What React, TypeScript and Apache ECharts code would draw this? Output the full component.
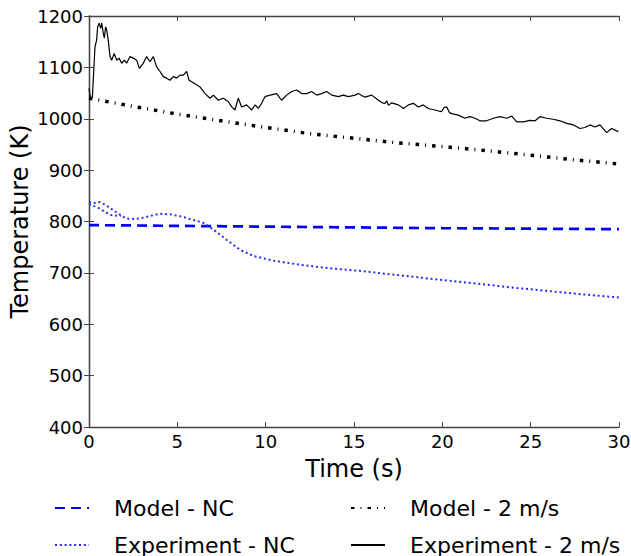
import React, { useEffect, useRef } from "react";
import * as echarts from "echarts";

const xTicks = [0, 5, 10, 15, 20, 25, 30];
const yTicks = [400, 500, 600, 700, 800, 900, 1000, 1100, 1200];

const modelNC: [number, number][] = [
  [0, 793], [10, 790], [20, 787], [30, 785],
];

const experimentNC: ([number, number] | [number, null])[] = [
  [0, 834], [0.5, 827], [1.0, 817], [1.3, 812], [1.8, 811], [1.85, null],
  [0, 838], [0.3, 836], [0.6, 838], [0.9, 833], [1.2, 826], [1.5, 819], [1.8, 812],
  [2.1, 806], [2.5, 805], [2.9, 806], [3.5, 811], [4.0, 815], [4.6, 814],
  [5.2, 810], [5.7, 805], [6.1, 801], [6.5, 797], [7.05, 784], [7.8, 764],
  [8.55, 745], [9.3, 733], [10.4, 724], [11.9, 716], [13.6, 709], [15.3, 704],
  [17.4, 696], [19.5, 688], [21.75, 680], [23.8, 672], [25.9, 665], [28, 658],
  [30, 652],
];

const model2: [number, number][] = [
  [0, 1040], [2.5, 1024], [5, 1009], [7.5, 996], [10, 983], [12.5, 971],
  [15, 962], [17.5, 953], [20, 946], [22.5, 938], [25, 929], [27.5, 920],
  [30, 912],
];

const experiment2: [number, number][] = [
  [0, 1059], [0.08, 1040], [0.19, 1042], [0.25, 1082], [0.34, 1140], [0.43, 1153],
  [0.49, 1179], [0.57, 1186], [0.66, 1176], [0.72, 1186], [0.81, 1166], [0.87, 1157],
  [0.94, 1179], [1.0, 1173], [1.09, 1153], [1.19, 1121], [1.28, 1114], [1.43, 1127],
  [1.57, 1114], [1.7, 1118], [1.85, 1108], [2.0, 1114], [2.13, 1108], [2.32, 1121],
  [2.51, 1118], [2.7, 1114], [2.85, 1098], [3.07, 1108], [3.26, 1121], [3.45, 1111],
  [3.64, 1121], [3.83, 1101], [4.02, 1092], [4.21, 1082], [4.4, 1079], [4.58, 1075],
  [4.77, 1082], [4.96, 1079], [5.15, 1085], [5.34, 1085], [5.53, 1092], [5.66, 1075],
  [5.81, 1072], [6.09, 1066], [6.28, 1062], [6.57, 1049], [6.85, 1040], [7.04, 1046],
  [7.32, 1036], [7.6, 1040], [7.89, 1033], [8.08, 1023], [8.26, 1017], [8.45, 1040],
  [8.64, 1023], [8.92, 1027], [9.21, 1017], [9.4, 1027], [9.58, 1020], [9.77, 1030],
  [9.96, 1043], [10.25, 1046], [10.62, 1049], [10.9, 1036], [11.19, 1046], [11.47, 1053],
  [11.75, 1056], [12.04, 1049], [12.32, 1049], [12.6, 1053], [12.89, 1046], [13.17, 1049],
  [13.45, 1053], [13.74, 1046], [14.11, 1043], [14.4, 1046], [14.68, 1043], [15.06, 1046],
  [15.24, 1049], [15.62, 1042], [16.0, 1046], [16.38, 1036], [16.6, 1031], [16.75, 1030],
  [16.85, 1035], [16.95, 1026], [17.13, 1031], [17.51, 1027], [17.8, 1020], [18.08, 1027],
  [18.36, 1030], [18.64, 1023], [18.92, 1027], [19.2, 1020], [19.58, 1017], [19.8, 1015],
  [19.96, 1014], [20.1, 1022], [20.25, 1023], [20.4, 1012], [20.53, 1010], [20.9, 1007],
  [21.28, 1001], [21.57, 1004], [21.85, 1001], [22.13, 996], [22.5, 996], [22.89, 1001],
  [23.26, 1004], [23.64, 1001], [23.93, 1005], [24.21, 994], [24.58, 994], [24.96, 997],
  [25.25, 996], [25.53, 1004], [25.91, 1001], [26.28, 999], [26.66, 996], [27.04, 991],
  [27.42, 988], [27.79, 981], [28.07, 983], [28.36, 988], [28.64, 984], [28.92, 988],
  [29.3, 973], [29.58, 981], [29.96, 975],
];

const FONT = "DejaVu Sans";
const FRAME = "#444";

export default function App() {
  const ref = useRef<HTMLDivElement>(null);
  useEffect(() => {
    document.body.style.margin = "0";
    if (!ref.current) return;
    const chart = echarts.init(ref.current, undefined, { renderer: "svg" });
    const axisLine = { show: true, lineStyle: { color: FRAME, width: 1.3 } };
    const tick = { show: true, inside: true, length: 5, lineStyle: { color: FRAME, width: 1 } };
    const legendBase = {
      top: 497, orient: "vertical", padding: 0, itemGap: 15,
      itemWidth: 34, itemHeight: 14,
      itemStyle: { opacity: 0, borderWidth: 0 },
      textStyle: { fontFamily: FONT, fontSize: 22, color: "#000", padding: [0, 0, 0, 20] },
    };
    chart.setOption({
      animation: false,
      backgroundColor: "#fff",
      grid: { left: 89, right: 12, top: 16, bottom: 129, containLabel: false, outerBoundsMode: "none" },
      xAxis: [
        {
          type: "value", min: xTicks[0], max: xTicks[xTicks.length - 1], interval: 5,
          position: "bottom", axisLine, axisTick: tick, splitLine: { show: false },
          axisLabel: { fontFamily: FONT, fontSize: 18, color: "#000", margin: 5 },
          name: "Time (s)", nameLocation: "middle", nameGap: 30, nameMoveOverlap: false,
          nameTextStyle: { fontFamily: FONT, fontSize: 24, color: "#000" },
        },
        {
          type: "value", min: 0, max: 30, interval: 5, position: "top",
          axisLine, axisTick: tick, axisLabel: { show: false }, splitLine: { show: false },
        },
      ],
      yAxis: [
        {
          type: "value", min: yTicks[0], max: yTicks[yTicks.length - 1], interval: 100,
          position: "left", axisLine, axisTick: tick, splitLine: { show: false },
          axisLabel: {
            fontFamily: FONT, fontSize: 18, color: "#000", margin: 6,
            formatter: (v: number) => String(v),
          },
          name: "Temperature (K)", nameLocation: "middle", nameGap: 57, nameMoveOverlap: false,
          nameTextStyle: { fontFamily: FONT, fontSize: 24, color: "#000" },
        },
        {
          type: "value", min: 400, max: 1200, interval: 100, position: "right",
          axisLine, axisTick: tick, axisLabel: { show: false }, splitLine: { show: false },
        },
      ],
      legend: [
        { ...legendBase, left: 54, data: ["Model - NC", "Experiment - NC"] },
        { ...legendBase, left: 350, data: ["Model - 2 m/s", "Experiment - 2 m/s"] },
      ],
      series: [
        {
          name: "Model - NC", type: "line", data: modelNC, symbol: "none",
          lineStyle: { color: "#0000ff", width: 2.7, type: [10, 6], cap: "butt" },
          itemStyle: { color: "#0000ff" },
        },
        {
          name: "Experiment - NC", type: "line", data: experimentNC, symbol: "none",
          connectNulls: false,
          lineStyle: { color: "#2a2aff", width: 2, type: [2, 2.8], cap: "butt" },
          itemStyle: { color: "#2a2aff" },
        },
        {
          name: "Model - 2 m/s", type: "line", data: model2, symbol: "none",
          lineStyle: { color: "#000", width: 3.5, type: [3.5, 6, 1, 6], cap: "butt" },
          itemStyle: { color: "#000" },
        },
        {
          name: "Experiment - 2 m/s", type: "line", data: experiment2, symbol: "none",
          lineStyle: { color: "#000", width: 1.2 },
          itemStyle: { color: "#000" },
        },
      ],
    });
    return () => chart.dispose();
  }, []);
  return <div ref={ref} style={{ width: 631, height: 556 }} />;
}
